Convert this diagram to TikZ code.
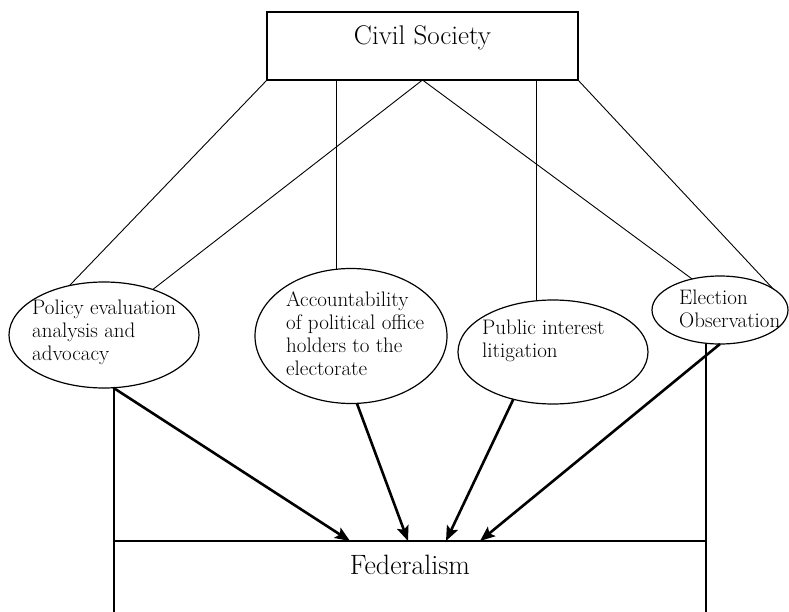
\documentclass[tikz,border=0pt]{standalone}
\usetikzlibrary{shapes.geometric,arrows.meta,calc}
\begin{document}
\begin{tikzpicture}[x=1pt,y=-1pt,
  box/.style={draw,line width=1.2pt,rectangle,outer sep=0pt,inner xsep=0pt},
  oval/.style={draw,line width=1.2pt,ellipse,inner sep=0pt,outer sep=0pt},
  ovaltext/.style={anchor=north west,inner sep=0pt,align=left,
    font=\fontsize{21}{23}\selectfont},
  link/.style={line width=0.9pt},
  push/.style={line width=2.6pt,-{Stealth[length=15pt,width=12pt,inset=3pt]}}]

\useasboundingbox (0,0) rectangle (789,612);
\clip (0,0) rectangle (789,612);

% top box
\node[box,anchor=north,minimum width=311pt,text height=17pt,text depth=19pt,
  inner ysep=16pt,font=\fontsize{27}{31}\selectfont] (cs) at (422.5,12) {Civil Society};

% bottom box (runs past the lower edge)
\node[box,anchor=north,minimum width=592pt,text height=17pt,text depth=60pt,
  inner ysep=16pt,font=\fontsize{28}{32}\selectfont] (fed) at (410,541) {Federalism};

% the four activities
\node[oval,minimum width=190pt,minimum height=106pt] (pol) at (104,335) {};
\node[oval,minimum width=192pt,minimum height=135pt] (acc) at (351,336) {};
\node[oval,minimum width=190pt,minimum height=104pt] (pub) at (553,352) {};
\node[oval,minimum width=136pt,minimum height=68pt]  (ele) at (720,310) {};

\node[ovaltext] (poltxt) at (32,299.4) {Policy evaluation\\analysis and\\advocacy};
\node[ovaltext] (acctxt) at (286,291.4) {Accountability\\of political office\\holders to the\\electorate};
\node[ovaltext] (pubtxt) at (482,319.4) {Public interest\\litigation};
\node[ovaltext] (eletxt) at (679,289.4) {Election\\Observation};

% links from civil society
\draw[link] (cs.south west) -- (pol.125);
\draw[link] (cs.south) -- (pol.43);
\draw[link] (acc.102) -- (acc.102 |- cs.south);
\draw[link] (cs.south) -- (ele.132);
\draw[link] (pub.108) -- (pub.108 |- cs.south);
\draw[link] (cs.south east) -- (ele.22);

% sides of the federalism box reaching up to the outer ovals
\draw[box] (fed.north west) -- (fed.north west |- pol.south);
\draw[box] (fed.north east) -- (fed.north east |- ele.south);

% arrows into federalism
\coordinate (tipA) at (350,541);
\coordinate (tipB) at (408,541);
\coordinate (tipC) at (446,541);
\coordinate (tipD) at (480,541);
\draw[push] (pol.-80) -- (tipA);
\draw[push] (acc.-85) -- (tipB);
\draw[push] (pub.-130) -- (tipC);
\draw[push] (ele.south) -- (tipD);
\end{tikzpicture}
\end{document}
